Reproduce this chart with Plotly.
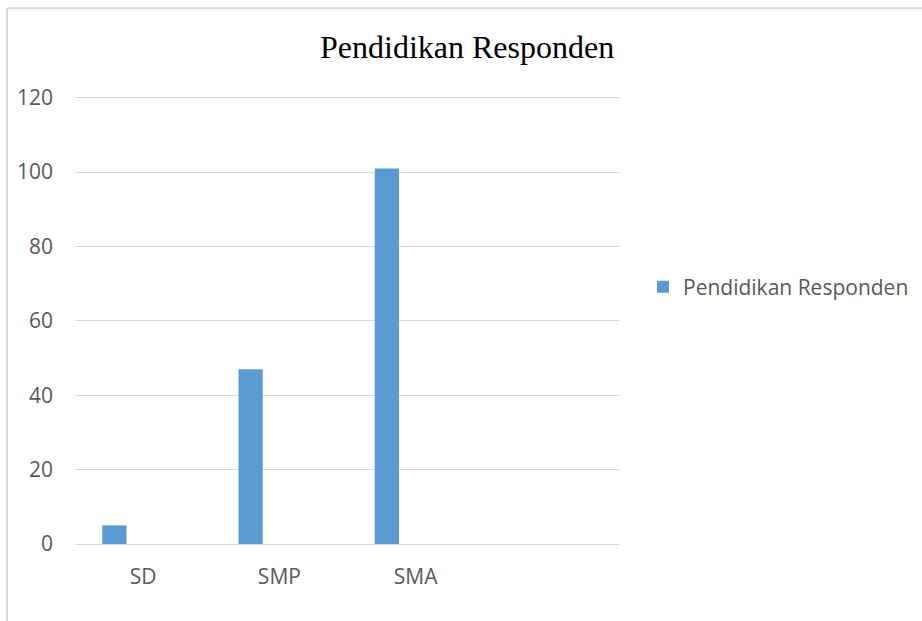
import plotly.graph_objects as go

categories = ["SD", "SMP", "SMA"]
values = [5, 47, 101]
series_name = "Pendidikan Responden"
y_ticks = [0, 20, 40, 60, 80, 100, 120]

W, H = 922, 621
L, R, B = 75, 302, 77
Y0_PX, Y120_PX = 544, 97.5          # pixel rows of 0 and 120
YMAX = 121
unit = (Y0_PX - Y120_PX) / 120
T = Y0_PX - YMAX * unit
pw, ph = W - L - R, H - T - B

def px(x):
    return (x - L) / pw

def py(y):
    return (H - B - y) / ph

fig = go.Figure()
fig.add_trace(go.Bar(
    x=categories, y=values, name=series_name,
    marker=dict(color="#5b9bd5", line=dict(width=0)),
    width=0.178, offset=-0.30,
))

fig.update_layout(
    width=W, height=H,
    margin=dict(l=L, r=R, t=T, b=B, autoexpand=False),
    paper_bgcolor="white", plot_bgcolor="white",
    showlegend=True,
    legend=dict(xref="container", yref="container",
                x=643 / W, y=(H - 287) / H, xanchor="left", yanchor="middle",
                font=dict(family="Open Sans", size=21, color="#595959"),
                itemwidth=30),
    xaxis=dict(type="category", categoryarray=categories, range=[-0.5, 3.5],
               showgrid=False, showline=False, zeroline=False,
               ticks="", ticklabelstandoff=18,
               tickfont=dict(family="Open Sans", size=21, color="#595959")),
    yaxis=dict(range=[0, YMAX], tickvals=y_ticks, showgrid=True,
               gridcolor="#d9d9d9", gridwidth=1, zeroline=True,
               zerolinecolor="#d9d9d9", zerolinewidth=1, showline=False,
               ticks="", ticklabelstandoff=21,
               tickfont=dict(family="Open Sans", size=21, color="#595959")),
    annotations=[dict(text="Pendidikan Responden", x=px(467), y=py(47),
                      xref="paper", yref="paper", showarrow=False,
                      xanchor="center", yanchor="middle",
                      font=dict(family="Liberation Serif", size=32, color="black"))],
    shapes=[dict(type="line", xref="paper", yref="paper",
                 x0=px(7), x1=px(7), y0=py(621), y1=py(8),
                 line=dict(color="#d9d9d9", width=2)),
            dict(type="line", xref="paper", yref="paper",
                 x0=px(7), x1=px(922), y0=py(8), y1=py(8),
                 line=dict(color="#d9d9d9", width=2))],
)

fig.write_html("out.html")
